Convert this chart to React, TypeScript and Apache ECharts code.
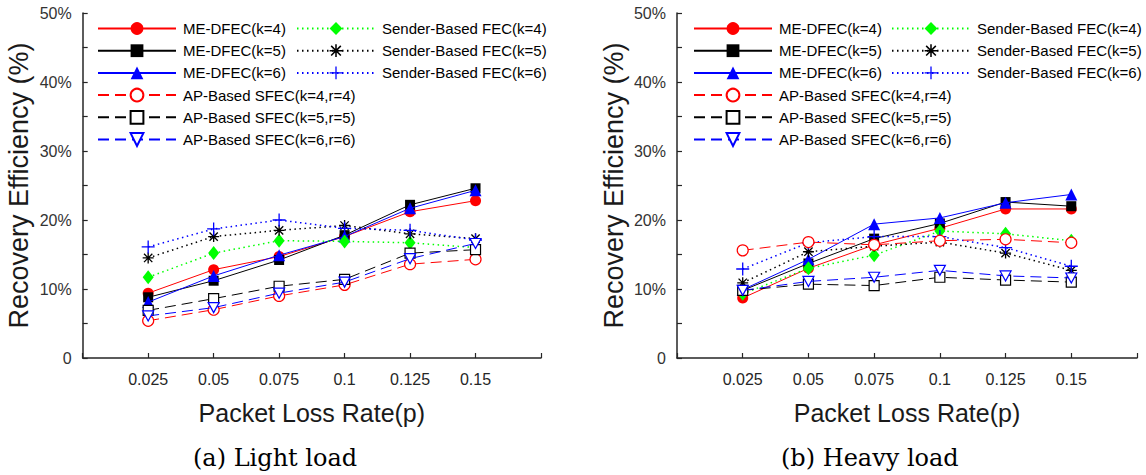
import React, { useEffect, useRef } from "react";
import * as echarts from "echarts";

const xValues = [0.025, 0.05, 0.075, 0.1, 0.125, 0.15];
const yTicks = [0, 10, 20, 30, 40, 50];

// Light load
const meK4L = [9.4, 12.8, 14.7, 17.6, 21.2, 22.8];
const meK5L = [8.8, 11.2, 14.2, 17.8, 22.2, 24.6];
const meK6L = [8.1, 11.9, 14.9, 17.6, 21.7, 24.3];
const sK4L = [11.7, 15.2, 17.0, 16.9, 16.7, 16.0];
const sK5L = [14.5, 17.6, 18.5, 19.2, 18.0, 17.3];
const sK6L = [16.1, 18.7, 20.0, 18.8, 18.5, 17.1];
const apK4L = [5.4, 7.0, 9.0, 10.6, 13.6, 14.3];
const apK5L = [6.9, 8.6, 10.4, 11.4, 15.2, 15.7];
const apK6L = [6.1, 7.3, 9.4, 11.0, 14.4, 16.6];

// Heavy load
const meK4H = [8.7, 13.0, 16.4, 18.8, 21.6, 21.6];
const meK5H = [9.8, 13.7, 17.3, 19.5, 22.6, 22.0];
const meK6H = [9.9, 14.3, 19.4, 20.3, 22.5, 23.7];
const sK4H = [9.3, 13.0, 14.9, 18.4, 18.0, 17.0];
const sK5H = [10.9, 15.4, 16.2, 16.8, 15.2, 12.7];
const sK6H = [12.9, 16.7, 17.6, 17.6, 16.0, 13.3];
const apK4H = [15.6, 16.8, 16.4, 17.0, 17.2, 16.7];
const apK5H = [9.8, 10.7, 10.5, 11.7, 11.3, 11.0];
const apK6H = [9.8, 11.1, 11.7, 12.7, 11.9, 11.6];

const names = [
  "ME-DFEC(k=4)",
  "ME-DFEC(k=5)",
  "ME-DFEC(k=6)",
  "Sender-Based FEC(k=4)",
  "Sender-Based FEC(k=5)",
  "Sender-Based FEC(k=6)",
  "AP-Based SFEC(k=4,r=4)",
  "AP-Based SFEC(k=5,r=5)",
  "AP-Based SFEC(k=6,r=6)",
];

const lightData = [meK4L, meK5L, meK6L, sK4L, sK5L, sK6L, apK4L, apK5L, apK6L];
const heavyData = [meK4H, meK5H, meK6H, sK4H, sK5H, sK6H, apK4H, apK5H, apK6H];

const PLUS = "path://M4.5,0 h1 v4.5 h4.5 v1 h-4.5 v4.5 h-1 v-4.5 h-4.5 v-1 h4.5 z";
const STAR =
  "path://M0,4.4 h10 v1.2 h-10 z M4.4,0 h1.2 v10 h-1.2 z M0.8,1.65 L1.65,0.8 L9.2,8.35 L8.35,9.2 z M8.35,0.8 L9.2,1.65 L1.65,9.2 L0.8,8.35 z";
const DOWN_TRI = "path://M0,0 L10,0 L5,9 z";

const RED = "#ff0000";
const BLACK = "#000000";
const BLUE = "#0000ff";
const GREEN = "#00ff00";

type Style = {
  color: string;
  symbol: string;
  size: number | number[];
  fill: string;
  border?: number;
  dash: any;
  width: number;
};

const styles: Style[] = [
  { color: RED, symbol: "circle", size: 11, fill: RED, dash: "solid", width: 1 },
  { color: BLACK, symbol: "rect", size: 10, fill: BLACK, dash: "solid", width: 1 },
  { color: BLUE, symbol: "triangle", size: 12, fill: BLUE, dash: "solid", width: 1 },
  { color: GREEN, symbol: "diamond", size: [11, 14], fill: GREEN, dash: [1.5, 3.5], width: 1.5 },
  { color: BLACK, symbol: STAR, size: 11, fill: BLACK, dash: [1.5, 3.5], width: 1.5 },
  { color: BLUE, symbol: PLUS, size: 13, fill: BLUE, dash: [1.5, 3.5], width: 1.5 },
  { color: RED, symbol: "circle", size: 11, fill: "#ffffff", border: 1.2, dash: [11, 6], width: 1 },
  { color: BLACK, symbol: "rect", size: 10, fill: "#ffffff", border: 1.2, dash: [11, 6], width: 1 },
  { color: BLUE, symbol: DOWN_TRI, size: [11, 10], fill: "#ffffff", border: 1.2, dash: [11, 6], width: 1 },
];

const FONT = "Liberation Sans, Arial, sans-serif";
const AXIS_COLOR = "#262626";

function buildSeries(data: number[][], axisIndex: number) {
  return data.map((vals, i) => {
    const s = styles[i];
    return {
      type: "line",
      name: names[i],
      xAxisIndex: axisIndex,
      yAxisIndex: axisIndex,
      data: vals.map((v, j) => [xValues[j], v]),
      symbol: s.symbol,
      symbolSize: s.size,
      showSymbol: true,
      lineStyle: { color: s.color, width: s.width, type: s.dash },
      itemStyle: {
        color: s.fill,
        borderColor: s.color,
        borderWidth: s.border || 0,
      },
      emphasis: { disabled: true },
      z: 2 + i,
    };
  });
}

function xAxis(gridIndex: number) {
  return {
    type: "value",
    gridIndex,
    min: 0,
    max: 0.175,
    interval: 0.025,
    name: "Packet Loss Rate(p)",
    nameLocation: "middle",
    nameGap: 42,
    nameTextStyle: { fontFamily: FONT, fontSize: 25, color: "#1a1a1a" },
    axisLine: { show: true, onZero: false, lineStyle: { color: AXIS_COLOR, width: 1.5 } },
    axisTick: { show: true, inside: true, length: 5, lineStyle: { color: AXIS_COLOR, width: 1.2 } },
    axisLabel: {
      margin: 13,
      fontFamily: FONT,
      fontSize: 16,
      color: "#262626",
      formatter: (v: number) => {
        const idx = xValues.findIndex((x) => Math.abs(x - v) < 1e-9);
        return idx >= 0 ? String(xValues[idx]) : "";
      },
    },
    splitLine: { show: false },
  };
}

function yAxis(gridIndex: number) {
  return {
    type: "value",
    gridIndex,
    min: 0,
    max: 50,
    interval: 5,
    name: "Recovery Efficiency (%)",
    nameLocation: "middle",
    nameGap: 50,
    nameTextStyle: { fontFamily: FONT, fontSize: 27, color: "#1a1a1a" },
    axisLine: { show: true, onZero: false, lineStyle: { color: AXIS_COLOR, width: 1.5 } },
    axisTick: { show: true, inside: true, length: 5, lineStyle: { color: AXIS_COLOR, width: 1.2 } },
    axisLabel: {
      margin: 11,
      fontFamily: FONT,
      fontSize: 16,
      color: "#333333",
      formatter: (v: number) => {
        const t = yTicks.find((y) => Math.abs(y - v) < 1e-9);
        if (t === undefined) return "";
        return t === 0 ? "0" : t + "%";
      },
    },
    splitLine: { show: false },
  };
}

function legends(left1: number, left2: number) {
  const common = {
    orient: "vertical",
    top: 21,
    itemWidth: 78,
    itemHeight: 16,
    itemGap: 7.2,
    padding: 0,
    selectedMode: false,
    textStyle: { fontFamily: FONT, fontSize: 15, color: "#000", padding: [0, 0, 0, 2] },
  };
  return [
    { ...common, left: left1, data: [names[0], names[1], names[2], names[6], names[7], names[8]] },
    { ...common, left: left2, data: [names[3], names[4], names[5]] },
  ];
}

export default function App() {
  const ref = useRef<HTMLDivElement>(null);
  useEffect(() => {
    if (!ref.current) return;
    const chart = echarts.init(ref.current, undefined, { renderer: "svg" });
    const option = {
      animation: false,
      backgroundColor: "#ffffff",
      grid: [
        { left: 82.7, right: 605, top: 13, bottom: 117, containLabel: false },
        { left: 677, right: 9, top: 13, bottom: 117, containLabel: false },
      ],
      xAxis: [xAxis(0), xAxis(1)],
      yAxis: [yAxis(0), yAxis(1)],
      legend: [...legends(97, 296), ...legends(693, 891)],
      series: [...buildSeries(lightData, 0), ...buildSeries(heavyData, 1)],
      graphic: [
        {
          type: "text",
          left: 193,
          top: 446,
          style: { text: "(a) Light load", fontFamily: "DejaVu Serif, serif", fontSize: 24, fill: "#000" },
        },
        {
          type: "text",
          left: 781,
          top: 446,
          style: { text: "(b) Heavy load", fontFamily: "DejaVu Serif, serif", fontSize: 24, fill: "#000" },
        },
      ],
    };
    chart.setOption(option as any);
    return () => chart.dispose();
  }, []);
  return (
    <div
      ref={ref}
      style={{ position: "absolute", left: 0, top: 0, width: 1146, height: 475 }}
    />
  );
}
